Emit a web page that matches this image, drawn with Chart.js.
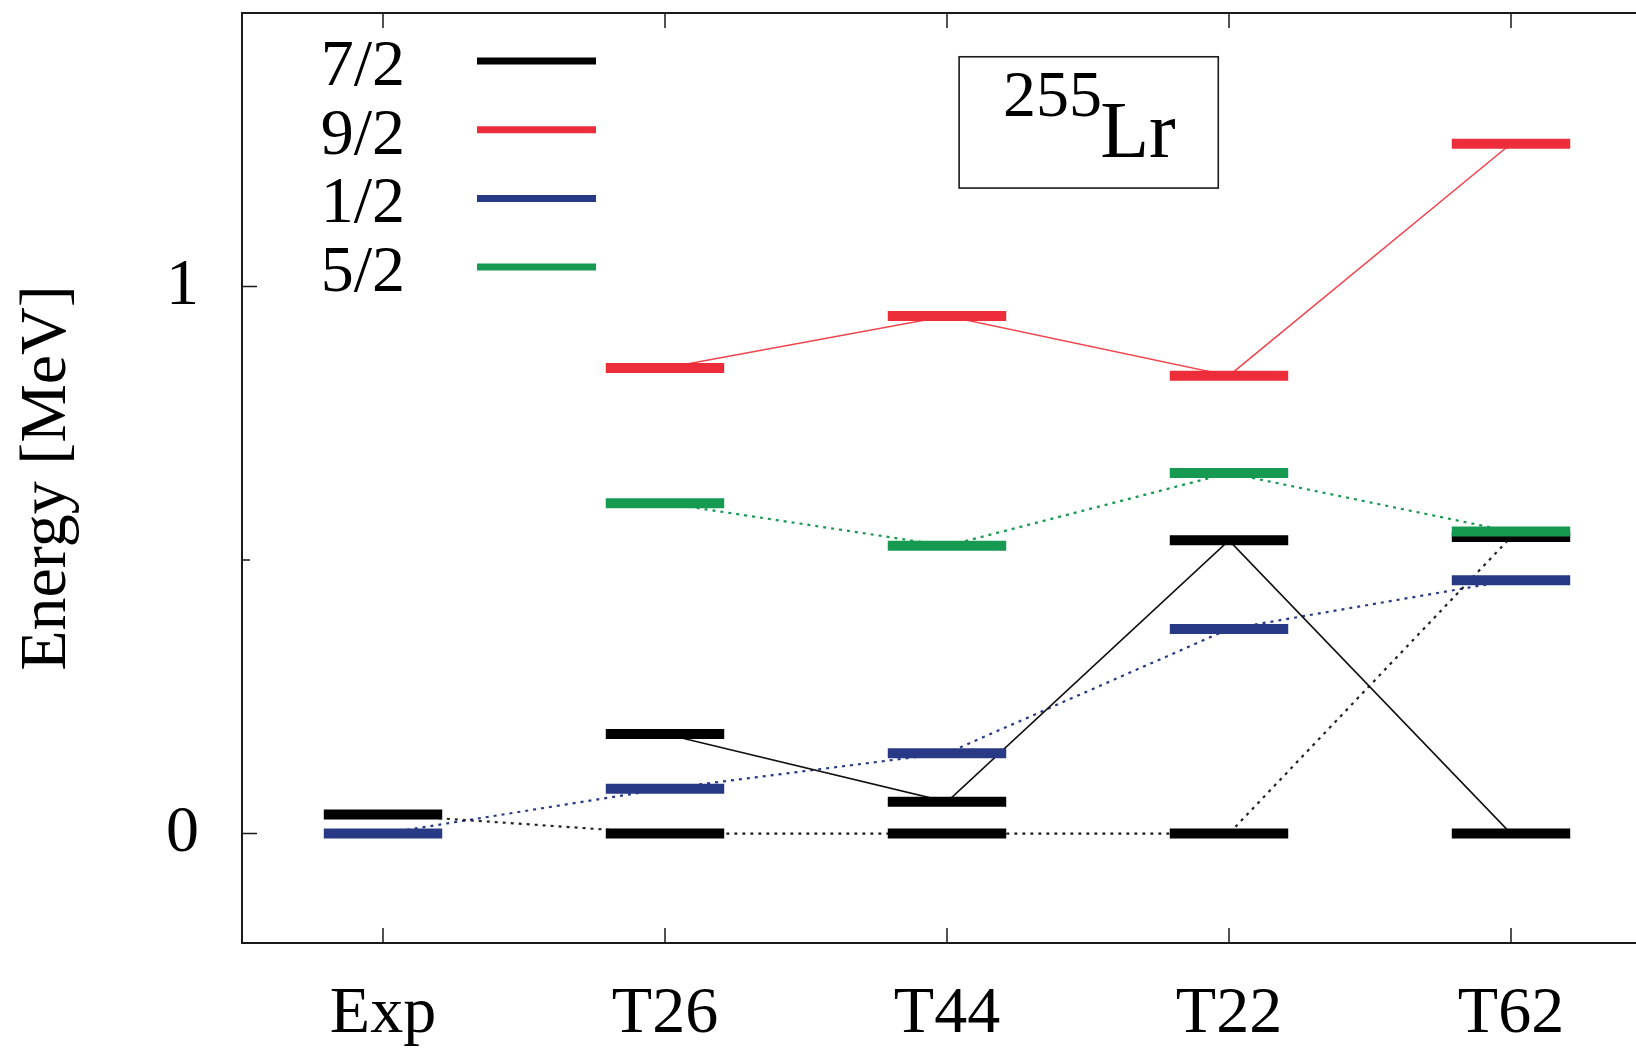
<!DOCTYPE html>
<html><head><meta charset="utf-8">
<script src="https://cdn.jsdelivr.net/npm/chart.js@4.4.0/dist/chart.umd.min.js"></script>
<style>
html,body{margin:0;padding:0;background:#fff;overflow:hidden;width:1636px;height:1050px}
#wrap{position:relative;width:1636px;height:1050px;overflow:hidden}
canvas{display:block}
</style></head>
<body><div id="wrap"><canvas id="c" width="1664" height="1050"></canvas></div>
<script>
// ---------- data ----------
const categories = ['Exp', 'T26', 'T44', 'T22', 'T62'];
const spinLabels = ['7/2', '9/2', '1/2', '5/2'];
// level energies in MeV (null = no level)
const j72a = [null, 0.182, 0.058, 0.536, 0.000];   // 7/2 levels joined by solid line
const j72b = [0.035, 0.000, 0.000, 0.000, 0.542];  // 7/2 levels joined by dotted line
const j92  = [null, 0.851, 0.946, 0.837, 1.261];
const j12  = [0.000, 0.082, 0.147, 0.374, 0.463];
const j52  = [null, 0.604, 0.526, 0.659, 0.552];
const yTickValues = [0, 0.5, 1];
const yTickLabels = ['0', '', '1'];
const nucleusMass = '255';
const nucleusSymbol = 'Lr';

// ---------- styles ----------
const FONT = "'Liberation Serif', 'Times New Roman', serif";
const C_BLACK = '#000000', C_RED = '#ee2d3a', C_BLUE = '#283a86', C_GREEN = '#169a52';
const HALF = 0.21;      // half width of a level bar (category units)
const BAR_W = 10;

function levelData(arr) {
  const out = [];
  arr.forEach((v, i) => {
    if (v === null) return;
    out.push({x: i - HALF, y: v}, {x: i + HALF, y: v}, {x: i + 0.5, y: null});
  });
  return out;
}
function linkData(arr) {
  const out = [];
  arr.forEach((v, i) => { if (v !== null) out.push({x: i, y: v}); });
  return out;
}
function levelSet(label, arr, color, order) {
  return {label, data: levelData(arr), borderColor: color, backgroundColor: color,
    borderWidth: BAR_W, borderCapStyle: 'butt', pointRadius: 0, pointHoverRadius: 0,
    spanGaps: false, fill: false, tension: 0, order};
}
function linkSet(label, arr, color, dotted, width) {
  return {label, data: linkData(arr), borderColor: color, backgroundColor: color,
    borderWidth: width, borderDash: dotted ? [3, 5] : [], pointRadius: 0, pointHoverRadius: 0,
    fill: false, tension: 0, order: 10};
}

const datasets = [
  linkSet('7/2 link a', j72a, '#111111', false, 1.6),
  linkSet('7/2 link b', j72b, '#222222', true, 2.2),
  linkSet('9/2 link', j92, '#f0464f', false, 1.6),
  linkSet('1/2 link', j12, C_BLUE, true, 2.2),
  linkSet('5/2 link', j52, C_GREEN, true, 2.2),
  levelSet('7/2', j72a, C_BLACK, 4),
  levelSet('7/2 ', j72b, C_BLACK, 4),
  levelSet('9/2', j92, C_RED, 3),
  levelSet('1/2', j12, C_BLUE, 2),
  levelSet('5/2', j52, C_GREEN, 1),
];
const legendItems = [
  {text: spinLabels[0], color: C_BLACK},
  {text: spinLabels[1], color: C_RED},
  {text: spinLabels[2], color: C_BLUE},
  {text: spinLabels[3], color: C_GREEN},
];

const framePlugin = {
  id: 'frame',
  afterDatasetsDraw(chart) {
    const ctx = chart.ctx, a = chart.chartArea;
    const xs = chart.scales.x, ys = chart.scales.y;
    ctx.save();
    ctx.strokeStyle = '#1a1a1a';
    ctx.lineWidth = 2;
    ctx.strokeRect(a.left, a.top, a.right - a.left, a.bottom - a.top);
    ctx.lineWidth = 1.5;
    ctx.beginPath();
    categories.forEach((c, i) => {
      const px = xs.getPixelForValue(i);
      ctx.moveTo(px, a.bottom); ctx.lineTo(px, a.bottom - 15);
      ctx.moveTo(px, a.top); ctx.lineTo(px, a.top + 15);
    });
    yTickValues.forEach((v, k) => {
      const py = ys.getPixelForValue(v);
      const len = yTickLabels[k] === '' ? 8 : 15;
      ctx.moveTo(a.left, py); ctx.lineTo(a.left + len, py);
      ctx.moveTo(a.right, py); ctx.lineTo(a.right - len, py);
    });
    ctx.stroke();

    // legend (inside plot, text left of sample line)
    ctx.font = '66px ' + FONT;
    ctx.fillStyle = '#000';
    ctx.textAlign = 'right';
    ctx.textBaseline = 'alphabetic';
    legendItems.forEach((it, k) => {
      const y = a.top + 48 + k * 68.7;
      ctx.fillText(it.text, a.left + 163, y + 24);
      ctx.strokeStyle = it.color;
      ctx.lineWidth = 7;
      ctx.lineCap = 'butt';
      ctx.beginPath();
      ctx.moveTo(a.left + 235, y); ctx.lineTo(a.left + 354, y);
      ctx.stroke();
    });

    // nucleus label box
    const bx0 = xs.getPixelForValue(2.043), bx1 = xs.getPixelForValue(2.962);
    const by0 = ys.getPixelForValue(1.42), by1 = ys.getPixelForValue(1.18);
    ctx.strokeStyle = '#1a1a1a';
    ctx.lineWidth = 1.6;
    ctx.strokeRect(bx0, by0, bx1 - bx0, by1 - by0);
    ctx.fillStyle = '#000';
    ctx.textAlign = 'left';
    ctx.font = '66px ' + FONT;
    ctx.fillText(nucleusMass, xs.getPixelForValue(2.199), ys.getPixelForValue(1.311));
    ctx.font = '80px ' + FONT;
    ctx.fillText(nucleusSymbol, xs.getPixelForValue(2.543), ys.getPixelForValue(1.2372));
    ctx.restore();
  }
};

new Chart(document.getElementById('c'), {
  type: 'line',
  data: {datasets},
  options: {
    responsive: false,
    animation: false,
    devicePixelRatio: 1,
    layout: {padding: {top: 13, right: 12, left: 0, bottom: 0}},
    plugins: {legend: {display: false}, tooltip: {enabled: false}},
    scales: {
      x: {
        type: 'linear', position: 'bottom', min: -0.5, max: 4.5,
        grid: {display: false, drawTicks: false},
        border: {display: false},
        afterBuildTicks: s => { s.ticks = categories.map((c, i) => ({value: i})); },
        afterFit: s => { s.height = 107; s.paddingLeft = 0; s.paddingRight = 0; },
        ticks: {
          callback: v => categories[v] ?? '',
          font: {family: FONT, size: 66}, color: '#000',
          padding: 32, maxRotation: 0, autoSkip: false
        }
      },
      y: {
        type: 'linear', position: 'left', min: -0.2, max: 1.5,
        grid: {display: false, drawTicks: false},
        border: {display: false},
        afterBuildTicks: s => { s.ticks = yTickValues.map(v => ({value: v})); },
        afterFit: s => { s.width = 242; s.paddingTop = 0; s.paddingBottom = 0; },
        ticks: {
          callback: v => { const k = yTickValues.indexOf(v); return k >= 0 ? yTickLabels[k] : ''; },
          font: {family: FONT, size: 66}, color: '#000', padding: 43
        },
        title: {display: true, text: 'Energy [MeV]', font: {family: FONT, size: 66},
          color: '#000', padding: {top: 8, bottom: 0}}
      }
    }
  },
  plugins: [framePlugin]
});
</script>
</body></html>
